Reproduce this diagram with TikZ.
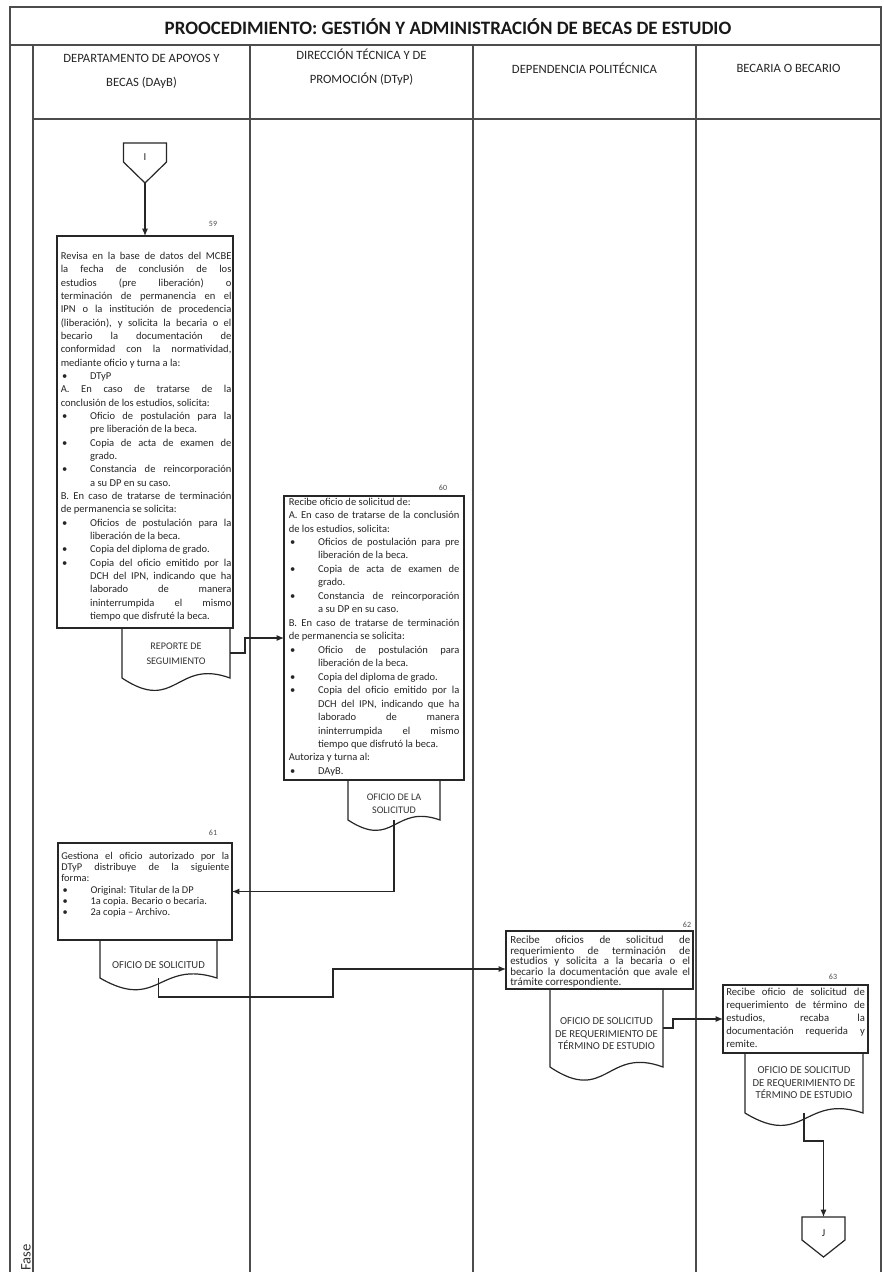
\documentclass[tikz,border=0pt]{standalone}
\usepackage{fontspec}
\setmainfont{Carlito}
\usetikzlibrary{arrows.meta,calc}

% hand-set lines: justified, left, bulleted, indented
\newdimen\bulind \bulind=22pt
\newcommand\lnJ[1]{\hbox to\hsize{#1}}
\newcommand\lnL[1]{\hbox to\hsize{#1\hfil}}
\newcommand\buJ[1]{\hbox to\hsize{\hbox to\bulind{\kern1pt\textbullet\hfil}#1}}
\newcommand\buL[1]{\hbox to\hsize{\hbox to\bulind{\kern1pt\textbullet\hfil}#1\hfil}}
\newcommand\inJ[1]{\hbox to\hsize{\kern\bulind #1}}
\newcommand\inL[1]{\hbox to\hsize{\kern\bulind #1\hfil}}
\newcommand\fs[2]{\fontsize{#1}{#2}\selectfont}

% document symbol hanging below an activity box
\newcommand\docshape[2]{%
  \draw[docline] (#1.north west) -- (#1.south west)
    .. controls ($(#1.south)+(0,#2)$) and ($(#1.south)+(0,-0.55*#2)$) .. (#1.south east)
    -- (#1.north east);}
% off-page connector (flat top, pointed bottom)
\newcommand\offpage[2]{%
  \draw[boxline] (#1.north west) -- (#1.north east) -- ($(#1.north east)+(0,#2)$)
    -- (#1.south) -- ($(#1.north west)+(0,#2)$) -- cycle;}

\tikzset{
  gridline/.style={draw=black!70, line width=1pt},
  boxline/.style={draw=black!85, line width=0.9pt},
  docline/.style={draw=black!85, line width=0.9pt},
  wh/.style 2 args={minimum width={#1*0.75pt}, minimum height={#2*0.75pt}},
  area/.style={rectangle, inner sep=0pt, outer sep=0pt},
  actbox/.style={area, boxline},
  boxtext/.style={anchor=north west, inner sep=0pt, text width=#1, text=black!85,
    execute at begin node={\spaceskip=0pt\xspaceskip=0pt}},
  doctext/.style={align=center, inner sep=0pt, text=black!80},
  num/.style={font=\fs{6}{6}, text=black!70, inner sep=0pt},
  lbl/.style={font=\fs{8}{8}, text=black!85, inner sep=0pt},
  hdr/.style={align=center, font=\fs{9.5}{18}, text=black!85, inner sep=0pt},
  flow/.style={draw=black!85, line width=0.8pt, -{Latex[length=5.5pt,width=4.5pt]}},
}

\begin{document}
\begin{tikzpicture}[x=0.75pt,y=-0.75pt]
\useasboundingbox (0,0) rectangle (883,1272);
\fill[white] (0,0) rectangle (883,1272);

% table frame and swimlanes
\draw[gridline] (10,1272) -- (10,7) -- (881,7) -- (881,1272);
\draw[gridline] (10,45) -- (881,45);
\draw[gridline] (33,119) -- (881,119);
\foreach \x in {33,250,473,696} \draw[gridline] (\x,45) -- (\x,1272);

\node[font=\fs{14.2}{15}\bfseries, text=black!90, inner sep=0pt] (title) at (448,27)
  {PROOCEDIMIENTO: GESTIÓN Y ADMINISTRACIÓN DE BECAS DE ESTUDIO};
\node[hdr] (h1) at (141.5,71) {DEPARTAMENTO DE APOYOS Y\\BECAS (DAyB)};
\node[hdr] (h2) at (361.5,67) {DIRECCIÓN TÉCNICA Y DE\\PROMOCIÓN (DTyP)};
\node[hdr] (h3) at (584.5,68) {DEPENDENCIA POLITÉCNICA};
\node[hdr] (h4) at (788.5,68) {BECARIA O BECARIO};
\node[rotate=90, anchor=west, font=\fs{11}{11}, text=black!80, inner sep=0pt] (fase) at (26,1271) {Fase};

% start connector
\node[area, wh={43}{40}] (I) at (145,163) {};
\offpage{I}{19}
\node[lbl] (Il) at (145,157) {I};

% activity 59
\node[actbox, wh={176}{392}] (b59) at (145,432) {};
\node[num] (n59) at (213,224) {59};
\node[boxtext=128pt, font=\fs{7.9}{10}] (t59) at (60.5,252) {%
\lnJ{Revisa en la base de datos del MCBE}
\lnJ{la fecha de conclusión de los}
\lnJ{estudios (pre liberación) o}
\lnJ{terminación de permanencia en el}
\lnJ{IPN o la institución de procedencia}
\lnJ{(liberación), y solicita la becaria o el}
\lnJ{becario la documentación de}
\lnJ{conformidad con la normatividad,}
\lnL{mediante oficio y turna a la:}
\buL{DTyP}
\lnJ{A. En caso de tratarse de la}
\lnL{conclusión de los estudios, solicita:}
\buJ{Oficio de postulación para la}
\inL{pre liberación de la beca.}
\buJ{Copia de acta de examen de}
\inL{grado.}
\buJ{Constancia de reincorporación}
\inL{a su DP en su caso.}
\lnJ{B. En caso de tratarse de terminación}
\lnL{de permanencia se solicita:}
\buJ{Oficios de postulación para la}
\inL{liberación de la beca.}
\buL{Copia del diploma de grado.}
\buJ{Copia del oficio emitido por la}
\inJ{DCH del IPN, indicando que ha}
\inJ{laborado de manera}
\inJ{ininterrumpida el mismo}
\inL{tiempo que disfruté la beca.}};
\node[area, wh={108}{50}] (d59) at (176,653) {};
\docshape{d59}{36}
\node[doctext, font=\fs{7.6}{11}] (d59t) at (176,654) {REPORTE DE\\SEGUIMIENTO};

% activity 60
\node[actbox, wh={180}{284}] (b60) at (374,638) {};
\node[num] (n60) at (443,488) {60};
\node[boxtext=128pt, font=\fs{7.9}{10.1}] (t60) at (288.5,497.5) {%
\lnL{Recibe oficio de solicitud de:}
\lnJ{A. En caso de tratarse de la conclusión}
\lnL{de los estudios, solicita:}
\buJ{Oficios de postulación para pre}
\inL{liberación de la beca.}
\buJ{Copia de acta de examen de}
\inL{grado.}
\buJ{Constancia de reincorporación}
\inL{a su DP en su caso.}
\lnJ{B. En caso de tratarse de terminación}
\lnL{de permanencia se solicita:}
\buJ{Oficio de postulación para}
\inL{liberación de la beca.}
\buL{Copia del diploma de grado.}
\buJ{Copia del oficio emitido por la}
\inJ{DCH del IPN, indicando que ha}
\inJ{laborado de manera}
\inJ{ininterrumpida el mismo}
\inL{tiempo que disfrutó la beca.}
\lnL{Autoriza y turna al:}
\buL{DAyB.}};
\node[area, wh={92}{40}] (d60) at (394,800) {};
\docshape{d60}{30}
\node[doctext, font=\fs{7.6}{9.8}] (d60t) at (394,804) {OFICIO DE LA\\SOLICITUD};

% activity 61
\node[actbox, wh={174}{97}] (b61) at (145,891.5) {};
\node[num] (n61) at (213,833) {61};
\node[boxtext=126pt, font=\fs{7.8}{8.4}] (t61) at (61,852) {%
\lnJ{Gestiona el oficio autorizado por la}
\lnJ{DTyP distribuye de la siguiente}
\lnL{forma:}
\buL{Original: Titular de la DP}
\buL{1a copia. Becario o becaria.}
\buL{2a copia – Archivo.}};
\node[area, wh={117}{38}] (d61) at (158.5,959) {};
\docshape{d61}{34}
\node[doctext, font=\fs{8}{9.6}] (d61t) at (158.5,965) {OFICIO DE SOLICITUD};

% activity 62
\node[actbox, wh={187}{58}] (b62) at (599.5,960) {};
\node[num] (n62) at (687,925) {62};
\node[boxtext=135pt, font=\fs{8.2}{7.8}] (t62) at (510,936) {%
\lnJ{Recibe oficios de solicitud de}
\lnJ{requerimiento de terminación de}
\lnJ{estudios y solicita a la becaria o el}
\lnJ{becario la documentación que avale el}
\lnL{trámite correspondiente.}};
\node[area, wh={113}{78}] (d62) at (606.5,1028) {};
\docshape{d62}{38}
\node[doctext, font=\fs{8}{9.4}] (d62t) at (606.5,1034)
  {OFICIO DE SOLICITUD\\DE REQUERIMIENTO DE\\TÉRMINO DE ESTUDIO};

% activity 63
\node[actbox, wh={145}{68}] (b63) at (795.5,1019) {};
\node[num] (n63) at (833,977) {63};
\node[boxtext=104pt, font=\fs{8}{9.75}] (t63) at (726,988) {%
\lnJ{Recibe oficio de solicitud de}
\lnJ{requerimiento de término de}
\lnJ{estudios, recaba la}
\lnJ{documentación requerida y}
\lnL{remite.}};
\node[area, wh={118}{60}] (d63) at (804,1083) {};
\docshape{d63}{36}
\node[doctext, font=\fs{8}{9.4}] (d63t) at (804,1083)
  {OFICIO DE SOLICITUD\\DE REQUERIMIENTO DE\\TÉRMINO DE ESTUDIO};

% end connector
\node[area, wh={43}{40}] (J) at (823.5,1237) {};
\offpage{J}{23}
\node[lbl] (Jl) at (823.5,1233) {J};

% flow
\coordinate (j61) at (333,997);
\draw[flow] (I.south) -- (b59.north);
\draw[flow] (d59.east) -- ++(15,0) |- (b60.west);
\draw[flow] (d60.south) |- (b61.east);
\draw[flow] (d61.south) |- (j61) |- ($(b62.north west)+(0,38)$);
\draw[flow] (d62.east) -- ++(10,0) |- (b63.west);
\draw[flow] (d63.south) -- ++(0,28) -| (J.north);
\end{tikzpicture}
\end{document}
